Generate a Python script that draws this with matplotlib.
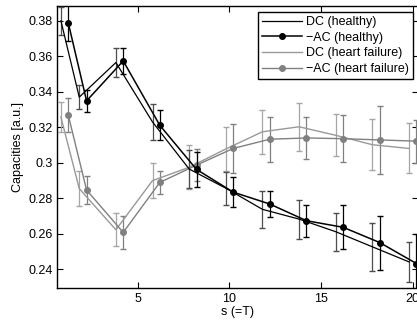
import numpy as np
import matplotlib
matplotlib.use("Agg")
import matplotlib.pyplot as plt
from matplotlib.ticker import FormatStrFormatter

plt.rcParams['font.family'] = ['Liberation Sans', 'DejaVu Sans']
plt.rcParams['font.size'] = 9

s = np.array([1, 2, 4, 6, 8, 10, 12, 14, 16, 18, 20])

dc_h = [0.380, 0.337, 0.3565, 0.323, 0.2965, 0.2857, 0.2738, 0.2683, 0.2612, 0.2527, 0.2442]
dc_h_err = [0.008, 0.0067, 0.0083, 0.010, 0.0105, 0.0092, 0.0106, 0.011, 0.0108, 0.0134, 0.0112]
ac_h = [0.3789, 0.3349, 0.3574, 0.3211, 0.2963, 0.2835, 0.2768, 0.2674, 0.2637, 0.2551, 0.2433]
ac_h_err = [0.0105, 0.006, 0.0074, 0.0085, 0.0099, 0.0086, 0.0072, 0.0091, 0.0125, 0.0152, 0.0168]

dc_hf = [0.3258, 0.2855, 0.2623, 0.290, 0.2975, 0.3078, 0.3175, 0.3203, 0.3155, 0.3102, 0.3081]
dc_hf_err = [0.0082, 0.0099, 0.0094, 0.0097, 0.0123, 0.0122, 0.0124, 0.0135, 0.0118, 0.0144, 0.0141]
ac_hf = [0.3269, 0.2847, 0.2608, 0.289, 0.2987, 0.3081, 0.3133, 0.3140, 0.3136, 0.3129, 0.3122]
ac_hf_err = [0.0094, 0.008, 0.0095, 0.0066, 0.009, 0.0136, 0.0127, 0.012, 0.0134, 0.019, 0.0122]

labels = ['DC (healthy)', '\u2212AC (healthy)', 'DC (heart failure)', '\u2212AC (heart failure)']

shift = 0.2  # DC drawn slightly left, AC slightly right

fig = plt.figure(figsize=(4.17, 3.24), dpi=100)
ax = fig.add_axes([0.136, 0.110, 0.866, 0.8724])

cap = 2.3
h1 = ax.errorbar(s - shift, dc_hf, yerr=dc_hf_err, color=(0.6, 0.6, 0.6), ecolor=(0.65, 0.65, 0.65),
                 lw=1.0, elinewidth=0.9, capsize=cap, zorder=2)
h2 = ax.errorbar(s + shift, ac_hf, yerr=ac_hf_err, color=(0.5, 0.5, 0.5), ecolor=(0.5, 0.5, 0.5),
                 lw=1.0, elinewidth=0.9, capsize=cap, marker='o', ms=4, zorder=2)
h3 = ax.errorbar(s - shift, dc_h, yerr=dc_h_err, color='black', ecolor=(0.3, 0.3, 0.3),
                 lw=0.9, elinewidth=0.9, capsize=cap, zorder=3)
h4 = ax.errorbar(s + shift, ac_h, yerr=ac_h_err, color='black', ecolor='black',
                 lw=1.1, elinewidth=0.9, capsize=cap, marker='o', ms=4, zorder=3)

ax.set_xlim(0.57, 20.28)
ax.set_ylim(0.2293, 0.3885)
ax.set_xticks([5, 10, 15, 20])
ax.set_yticks(np.arange(0.24, 0.381, 0.02))
ax.yaxis.set_major_formatter(FormatStrFormatter('%g'))
ax.tick_params(direction='in', top=True, right=True, length=4, width=0.8, labelsize=9, pad=3)
for sp in ax.spines.values():
    sp.set_linewidth(1.0)

ax.set_xlabel('s (=T)', labelpad=1)
ax.set_ylabel('Capacities [a.u.]', labelpad=3)

leg = ax.legend([h3[0], h4[0], h1[0], h2[0]], labels, loc='upper right',
                bbox_to_anchor=(0.986, 0.977), fancybox=False, framealpha=1,
                edgecolor='black', fontsize=9, handlelength=3.2, handletextpad=0.35,
                labelspacing=0.3, borderpad=0.3, borderaxespad=0)
leg.get_frame().set_linewidth(1.0)

fig.savefig('out.png', dpi=100)
